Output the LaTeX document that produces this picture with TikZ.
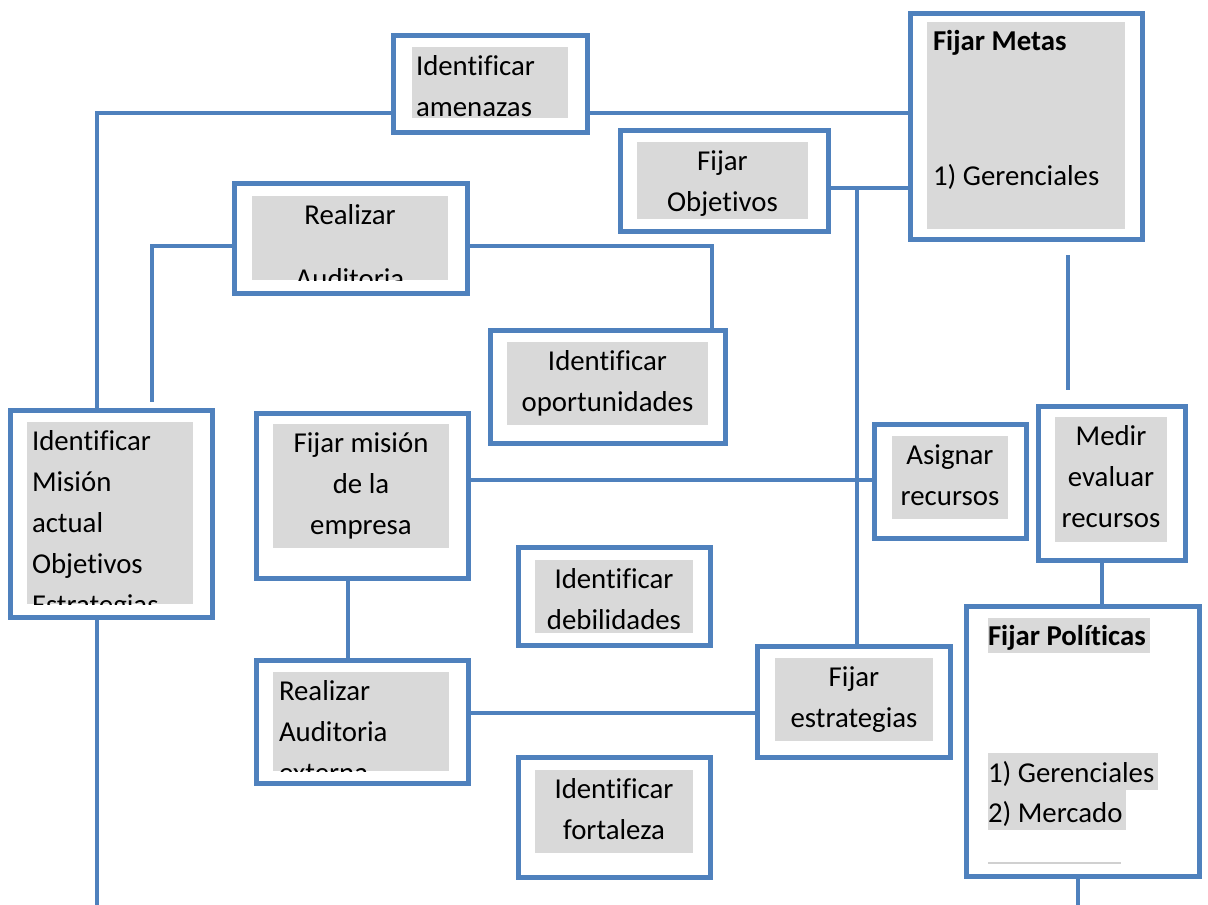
\documentclass[tikz,border=0pt]{standalone}
\usepackage{fontspec}
\setmainfont{Carlito}[Ligatures=NoCommon]
\definecolor{frameblue}{HTML}{4F81BD}
\definecolor{fieldgray}{HTML}{D9D9D9}
\definecolor{rulegray}{HTML}{D0D0D0}

% outer blue frame: name, x1, y1, x2, y2 (pixel-style coordinates, y grows downward)
\newcommand\frameat[5]{%
  \node[frame, minimum width={(#4)-(#2)}, minimum height={(#5)-(#3)}]
    (#1) at ({((#2)+(#4))/2},{((#3)+(#5))/2}) {};}
% grey text field inside a frame
\newcommand\fieldat[5]{%
  \node[field, minimum width={(#4)-(#2)}, minimum height={(#5)-(#3)}]
    (#1) at ({((#2)+(#4))/2},{((#3)+(#5))/2}) {};}
% centred text, clipped to its field
\newcommand\ctext[3]{%
  \begin{scope}
    \clip (#2.south west) rectangle (#2.north east);
    \node[txt, align=center, anchor=north] (#1) at (#2.north) {#3};
  \end{scope}}
% left-aligned text, clipped to its field
\newcommand\ltext[4]{%
  \begin{scope}
    \clip (#2.south west) rectangle (#2.north east);
    \node[txt, align=left, anchor=north west] (#1) at ([xshift=#3pt]#2.north west) {#4};
  \end{scope}}

\begin{document}
\begin{tikzpicture}[x=1pt, y=-1pt,
  frame/.style={draw=frameblue, line width=5pt, fill=white, inner sep=0pt},
  field/.style={fill=fieldgray, inner sep=0pt, outer sep=0pt},
  txt/.style={inner sep=0pt, outer sep=0pt, text=black,
              font=\fontsize{28.8}{41}\selectfont},
  link/.style={draw=frameblue, line width=4.2pt}]

\fill[white] (0,0) rectangle (1208,905);
\useasboundingbox (0,0) rectangle (1208,905);

% ---------- frames ----------
\frameat{am}{393}{35}{587}{132}
\frameat{metas}{910}{13}{1142}{239}
\frameat{obj}{620}{130}{828}{231}
\frameat{aud}{234}{183}{467}{293}
\frameat{opo}{490}{330}{725}{443}
\frameat{mis}{10}{410}{212}{617}
\frameat{fmis}{256}{413}{468}{578}
\frameat{asig}{874}{424}{1026}{538}
\frameat{med}{1038}{406}{1185}{560}
\frameat{pol}{966}{606}{1199}{876}
\frameat{deb}{518}{547}{710}{645}
\frameat{fort}{518}{757}{710}{877}
\frameat{ext}{256}{660}{468}{783}
\frameat{estr}{757}{646}{950}{757}

% ---------- connectors ----------
\coordinate (objJ) at (857,188);
\coordinate (audEnd) at (152,402);
\coordinate (metasA) at (1068,255);
\coordinate (metasB) at (1068,390);
\coordinate (misEnd) at (97,905);
\coordinate (polEnd) at (1078,905);

\draw[link] (am.west |- 0,113) -| (mis.north -| 97,0);
\draw[link] (am.east |- 0,113) -- (metas.west |- 0,113);
\draw[link] (obj.east |- 0,188) -- (metas.west |- 0,188);
\draw[link] (objJ) -- (estr.north -| objJ);
\draw[link] (metasA) -- (metasB);
\draw[link] (aud.west |- 0,246) -| (audEnd);
\draw[link] (aud.east |- 0,246) -| (opo.north -| 712,0);
\draw[link] (mis.south -| misEnd) -- (misEnd);
\draw[link] (fmis.east |- 0,480) -- (asig.west |- 0,480);
\draw[link] (fmis.south -| 348,0) -- (ext.north -| 348,0);
\draw[link] (ext.east |- 0,713) -- (estr.west |- 0,713);
\draw[link] (med.south -| 1102,0) -- (pol.north -| 1102,0);
\draw[link] (pol.south -| polEnd) -- (polEnd);

% ---------- grey fields and texts ----------
\fieldat{am-f}{412}{47}{568}{118}
\ltext{am-t}{am-f}{4}{\strut Identificar\\\strut amenazas}

\fieldat{metas-f}{927}{22}{1125}{229}
\ltext{metas-t}{metas-f}{6}{\strut\textbf{Fijar Metas}\\[94pt]\strut 1) Gerenciales}

\fieldat{obj-f}{637}{142}{808}{219}
\ctext{obj-t}{obj-f}{\strut Fijar\\\strut Objetivos}

\fieldat{aud-f}{252}{196}{448}{280}
\ctext{aud-t}{aud-f}{\strut Realizar\\[23pt]\strut Auditoria}

\fieldat{opo-f}{507}{342}{708}{425}
\ctext{opo-t}{opo-f}{\strut Identificar\\\strut oportunidades}

\fieldat{mis-f}{27}{422}{193}{604}
\ltext{mis-t}{mis-f}{5}{\strut Identificar\\\strut Misión\\\strut actual\\\strut Objetivos\\\strut Estrategias}

\fieldat{fmis-f}{273}{424}{449}{548}
\ctext{fmis-t}{fmis-f}{\strut Fijar misión\\\strut de la\\\strut empresa}

\fieldat{asig-f}{892}{436}{1008}{519}
\ctext{asig-t}{asig-f}{\strut Asignar\\\strut recursos}

\fieldat{med-f}{1055}{417}{1167}{542}
\ctext{med-t}{med-f}{\strut Medir\\\strut evaluar\\\strut recursos}

\fieldat{deb-f}{535}{560}{693}{633}
\ctext{deb-t}{deb-f}{\strut Identificar\\\strut debilidades}

\fieldat{fort-f}{535}{770}{693}{853}
\ctext{fort-t}{fort-f}{\strut Identificar\\\strut fortaleza}

\fieldat{ext-f}{273}{672}{449}{771}
\ltext{ext-t}{ext-f}{6}{\strut Realizar\\\strut Auditoria\\\strut externa}

\fieldat{estr-f}{775}{658}{933}{741}
\ctext{estr-t}{estr-f}{\strut Fijar\\\strut estrategias}

% policies: highlighted lines only
\fieldat{pol-f1}{988}{618}{1150}{653}
\fieldat{pol-f2}{988}{753}{1158}{790}
\fieldat{pol-f3}{988}{790}{1126}{830}
\node[txt, anchor=base west] (pol-t1) at (988,645) {\textbf{Fijar Políticas}};
\node[txt, anchor=base west] (pol-t2) at (988,782) {1) Gerenciales};
\node[txt, anchor=base west] (pol-t3) at (988,822) {2) Mercado};
\draw[rulegray, line width=1.2pt] (988,863) -- (1121,863);

\end{tikzpicture}
\end{document}
